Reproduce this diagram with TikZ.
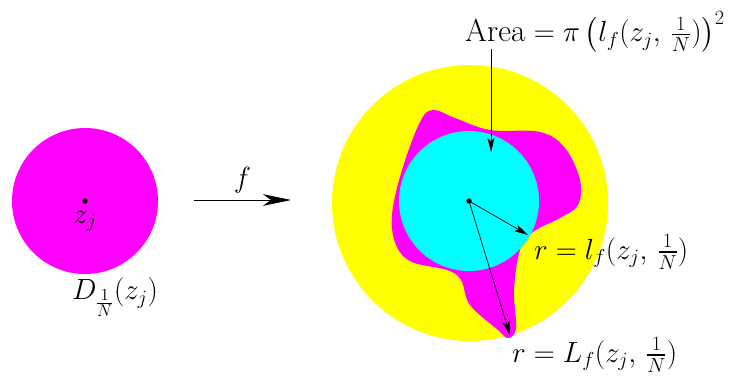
\documentclass[tikz,border=0pt]{standalone}
\usepackage{amsmath}
\usetikzlibrary{arrows.meta,positioning}
\definecolor{pinkish}{RGB}{255,0,255}
\definecolor{skyish}{RGB}{0,255,255}
\definecolor{sunish}{RGB}{255,255,0}

\begin{document}
\begin{tikzpicture}[x=0.03cm,y=-0.03cm,>={Stealth[length=12pt,width=6pt,inset=3pt]},
  every node/.style={font=\fontsize{27}{32}\selectfont},
  dot/.style={circle,fill,inner sep=1.6pt},
  maparrow/.style={semithick,-{Stealth[length=24pt,width=10pt,inset=7pt]}}]
\useasboundingbox (0,0) rectangle (736,381);
% source disc
\fill[pinkish] (85,201) circle (73);
\node[dot] (zj) at (85,201) {};
\node (zlabel) at (85,221) {$z_j$};
\node (dlabel) at (115,297) {$D_{\frac{1}{N}}(z_j)$};
% the map
\coordinate (fa) at (194,200); \coordinate (fb) at (291,200);
\draw[maparrow] (fa) -- node[above=2pt] {$f$} (fb);
% image
\fill[sunish] (470,203) circle (138);
\fill[pinkish] plot[smooth cycle,tension=0.6] coordinates {(433,110) (455,118) (490,130) (540,132) (565,148)
  (580,180) (578,205) (560,218) (533,232) (520,250) (514,290) (516,328) (508,338) (498,330) (470,305)
  (461,280) (447,270) (412,262) (396,245) (392,215) (402,170) (420,122)};
\fill[skyish] (469,201) circle (70);
\node[dot] (w) at (469,201) {};
\node[anchor=west] (lr) at (530,252) {$r = l_f(z_j,\,\frac{1}{N})$};
\node[anchor=west] (Lr) at (508,355) {$r = L_f(z_j,\,\frac{1}{N})$};
\node[inner sep=1pt] (area) at (595,32) {$\text{Area} = \pi\left(l_f(z_j,\,\frac{1}{N})\right)^2$};
\coordinate (lend) at (528,235); \coordinate (Lend) at (510,335);
\coordinate (atop) at (491,49); \coordinate (abot) at (491,152);
\draw[semithick,->] (w.center) -- (lend);
\draw[semithick,->] (w.center) -- (Lend);
\draw[semithick,->] (atop) -- (abot);
\end{tikzpicture}
\end{document}
